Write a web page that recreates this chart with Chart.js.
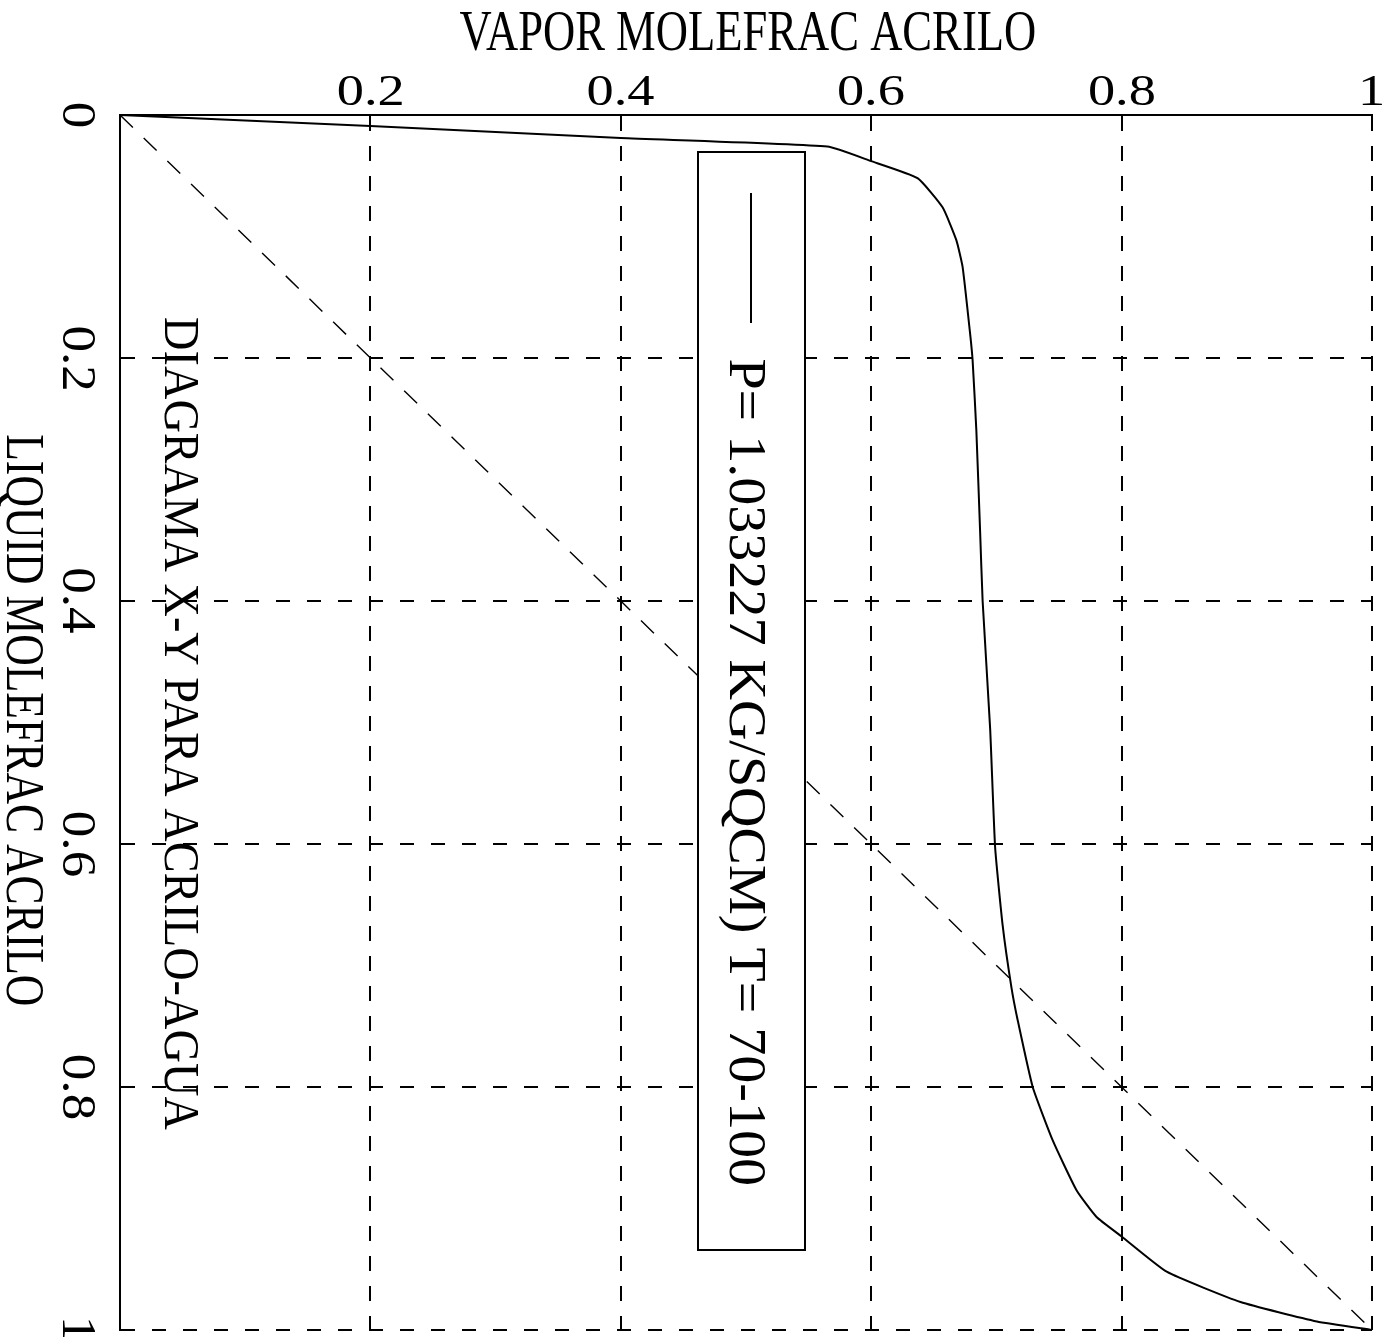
<!DOCTYPE html>
<html>
<head>
<meta charset="utf-8">
<script src="https://cdn.jsdelivr.net/npm/chart.js@4.4.1/dist/chart.umd.min.js"></script>
<style>
    html, body { margin: 0; padding: 0; background: #fff; }
    #wrap { width: 1387px; height: 1337px; }
</style>
</head>
<body>
<div id="wrap"><canvas id="xy" width="1387" height="1337"></canvas></div>
<script>
// x-y equilibrium curve
var vapor  = [0, 0.2, 0.4, 0.565, 0.6, 0.637, 0.657, 0.668, 0.673, 0.679, 0.681, 0.684, 0.687, 0.689,
              0.695, 0.699, 0.705, 0.712, 0.717, 0.729, 0.745, 0.764, 0.780, 0.800, 0.836, 0.895, 0.956, 1.0];
var liquid = [0, 0.009, 0.019, 0.026, 0.038, 0.052, 0.076, 0.103, 0.125, 0.180, 0.202, 0.260, 0.343, 0.400,
              0.505, 0.603, 0.667, 0.718, 0.745, 0.800, 0.844, 0.885, 0.907, 0.923, 0.952, 0.977, 0.993, 1.0];
// 45 degree line
var diagX = [0, 1];
var diagY = [0, 1];

var xTicks = [0, 0.2, 0.4, 0.6, 0.8, 1];
var yTicks = [0, 0.2, 0.4, 0.6, 0.8, 1];
var xTickLabels = ['', '0.2', '0.4', '0.6', '0.8', '1'];
var yTickLabels = ['0', '0.2', '0.4', '0.6', '0.8', '1'];

var xTitle = 'VAPOR MOLEFRAC ACRILO';
var yTitle = 'LIQUID MOLEFRAC ACRILO';
var plotTitle = 'DIAGRAMA X-Y PARA ACRILO-AGUA';
var seriesLabel = 'P= 1.033227 KG/SQCM) T= 70-100';

var FONT = '"Liberation Serif", "DejaVu Serif", serif';

function fnc_points(xs, ys){
    var pts = [];
    for(var i in xs){
        pts.push({x: xs[i], y: ys[i]});
    }
    return pts;
}

// horizontal scale factor so that text ink gets a given width
function fnc_fit(ctx, text, size, width){
    ctx.save();
    ctx.font = size + 'px ' + FONT;
    var m = ctx.measureText(text);
    ctx.restore();
    return width / (m.actualBoundingBoxLeft + m.actualBoundingBoxRight);
}

// text centred (ink) on cx,cy, rotated by rot
function fnc_text(ctx, text, cx, cy, size, sx, rot){
    ctx.save();
    ctx.translate(cx, cy);
    ctx.rotate(rot || 0);
    ctx.scale(sx, 1);
    ctx.font = size + 'px ' + FONT;
    ctx.fillStyle = '#000';
    ctx.textAlign = 'center';
    ctx.textBaseline = 'alphabetic';
    var m = ctx.measureText(text);
    ctx.fillText(text, (m.actualBoundingBoxLeft - m.actualBoundingBoxRight) / 2, size * 0.331);
    ctx.restore();
}

var textPlugin = {
    id: 'oldPlotText',
    afterDraw: function(chart){
        var ctx = chart.ctx;
        var xs = chart.scales.x, ys = chart.scales.y;
        var down = Math.PI / 2;

        // tick labels
        var sxT = fnc_fit(ctx, '0.2', 45, 65);
        for(var i in xTicks){
            if(xTickLabels[i] == '') continue;
            fnc_text(ctx, xTickLabels[i], xs.getPixelForValue(xTicks[i]), 90, 45, sxT, 0);
        }
        var syT = fnc_fit(ctx, '0.2', 48, 63);
        for(var j in yTicks){
            fnc_text(ctx, yTickLabels[j], 79, ys.getPixelForValue(yTicks[j]), 48, syT, down);
        }

        // axis titles and plot title
        fnc_text(ctx, xTitle, 747, 31, 57, fnc_fit(ctx, xTitle, 57, 575), 0);
        fnc_text(ctx, yTitle, 25, 720, 55, fnc_fit(ctx, yTitle, 55, 570), down);
        fnc_text(ctx, plotTitle, 182, 724, 51, fnc_fit(ctx, plotTitle, 51, 812), down);

        // legend box
        var ds = chart.data.datasets[0];
        ctx.save();
        ctx.fillStyle = '#fff';
        ctx.fillRect(698, 152, 107, 1098);
        ctx.strokeStyle = '#000';
        ctx.lineWidth = 2;
        ctx.strokeRect(698, 152, 107, 1098);
        ctx.strokeStyle = ds.borderColor;
        ctx.lineWidth = ds.borderWidth;
        ctx.beginPath();
        ctx.moveTo(751, 193);
        ctx.lineTo(751, 323);
        ctx.stroke();
        ctx.restore();
        fnc_text(ctx, ds.label, 748, 772, 53, fnc_fit(ctx, ds.label, 53, 825), down);
    }
};

new Chart(document.getElementById('xy'), {
    type: 'scatter',
    data: {
        datasets: [
            {
                label: seriesLabel,
                data: fnc_points(vapor, liquid),
                showLine: true,
                borderColor: '#000',
                borderWidth: 2,
                pointRadius: 0,
                tension: 0.15
            },
            {
                label: 'y=x',
                data: fnc_points(diagX, diagY),
                showLine: true,
                borderColor: '#000',
                borderWidth: 1.4,
                borderDash: [18, 15],
                pointRadius: 0
            }
        ]
    },
    options: {
        responsive: false,
        animation: false,
        devicePixelRatio: 1,
        layout: { padding: { left: 120, top: 115, right: 15, bottom: 7 } },
        plugins: { legend: { display: false }, tooltip: { enabled: false } },
        scales: {
            x: {
                type: 'linear',
                position: 'top',
                min: 0,
                max: 1,
                afterBuildTicks: function(s){ s.ticks = xTicks.map(function(v){ return {value: v}; }); },
                ticks: { display: false },
                grid: { color: '#000', lineWidth: 2, drawTicks: false },
                border: { display: true, color: '#000', width: 2, dash: [15, 15] }
            },
            y: {
                type: 'linear',
                position: 'left',
                reverse: true,
                min: 0,
                max: 1,
                afterBuildTicks: function(s){ s.ticks = yTicks.map(function(v){ return {value: v}; }); },
                ticks: { display: false },
                grid: { color: '#000', lineWidth: 2, drawTicks: false },
                border: { display: true, color: '#000', width: 2, dash: [14, 17] }
            }
        }
    },
    plugins: [textPlugin]
});
</script>
</body>
</html>
